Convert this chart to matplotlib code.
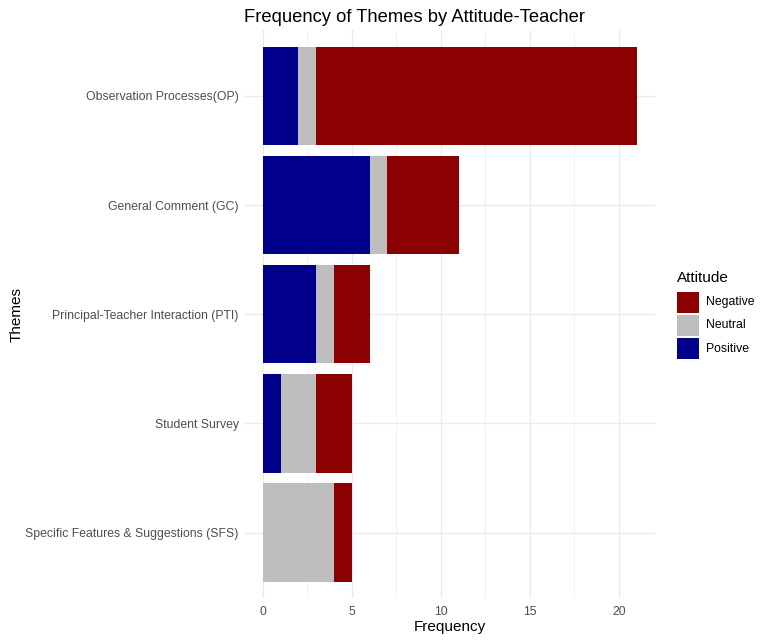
import matplotlib.pyplot as plt
from matplotlib.patches import Rectangle
import numpy as np

plt.rcParams['font.family'] = ['Liberation Sans', 'DejaVu Sans']

# data
themes = [
    'Observation Processes(OP)',
    'General Comment (GC)',
    'Principal-Teacher Interaction (PTI)',
    'Student Survey',
    'Specific Features & Suggestions (SFS)',
]
positive = [2, 6, 3, 1, 0]
neutral  = [1, 1, 1, 2, 4]
negative = [18, 4, 2, 2, 1]

attitudes = ['Negative', 'Neutral', 'Positive']
colors = {'Negative': '#8B0000', 'Neutral': '#BEBEBE', 'Positive': '#00008B'}

W, H = 770, 642
fig = plt.figure(figsize=(W / 100, H / 100), dpi=100)
ax = fig.add_axes([0.317, 0.0685, 0.534, 0.884])

y = np.arange(len(themes))[::-1] + 1
pos = np.array(positive)
neu = np.array(neutral)
neg = np.array(negative)

ax.barh(y, pos, height=0.9, color=colors['Positive'], zorder=2)
ax.barh(y, neu, left=pos, height=0.9, color=colors['Neutral'], zorder=2)
ax.barh(y, neg, left=pos + neu, height=0.9, color=colors['Negative'], zorder=2)

total = (pos + neu + neg).max()
ax.set_xlim(-0.05 * total, total * 1.05)
ax.set_ylim(0.4, len(themes) + 0.6)

ax.set_xticks([0, 5, 10, 15, 20])
ax.set_xticks([2.5, 7.5, 12.5, 17.5], minor=True)
ax.set_yticks(y)
ax.set_yticklabels(themes)

ax.grid(True, which='major', color='#EBEBEB', linewidth=1.0, zorder=0)
ax.grid(True, which='minor', axis='x', color='#EBEBEB', linewidth=0.5, zorder=0)
for s in ax.spines.values():
    s.set_visible(False)
ax.tick_params(which='both', length=0, labelsize=8.8, labelcolor='#4D4D4D')
ax.tick_params(axis='x', pad=6)
ax.tick_params(axis='y', pad=4)

ax.set_xlabel('Frequency', fontsize=11, labelpad=1.5)
ax.set_ylabel('Themes', fontsize=11, labelpad=1)
ax.set_title('Frequency of Themes by Attitude-Teacher', fontsize=13.2, pad=6, loc='left')

# legend drawn by hand, ggplot style keys
key_x, key_w, key_h, pitch = 677, 22, 21, 23
fig.text(key_x / W, 1 - 277.5 / H, 'Attitude', fontsize=11, ha='left', va='center')
for i, a in enumerate(attitudes):
    top = 292 + i * pitch
    fig.add_artist(Rectangle((key_x / W, 1 - (top + key_h) / H), key_w / W, key_h / H,
                             transform=fig.transFigure, facecolor=colors[a],
                             edgecolor='none'))
    fig.text(706 / W, 1 - (top + key_h / 2) / H, a, fontsize=8.8,
             ha='left', va='center')

fig.savefig('out.png', dpi=100)
